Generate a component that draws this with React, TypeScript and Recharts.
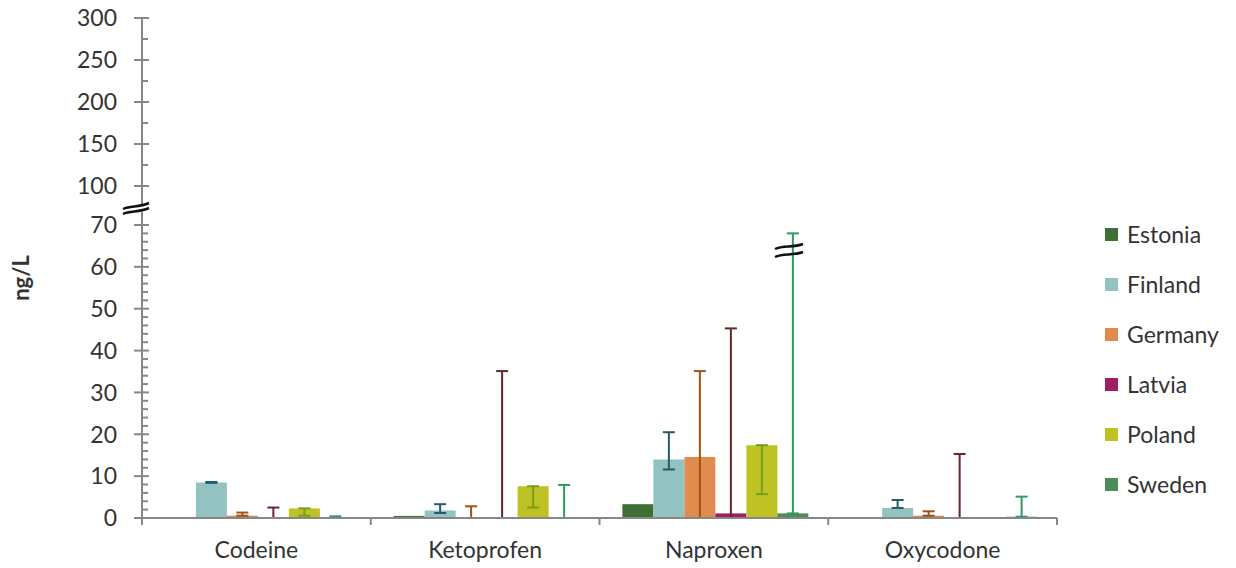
import React from 'react';
import { BarChart, Bar, XAxis, YAxis, ErrorBar, Legend } from 'recharts';

// ---------- data ----------
const CATEGORIES = ['Codeine', 'Ketoprofen', 'Naproxen', 'Oxycodone'];
const COUNTRIES = ['Estonia', 'Finland', 'Germany', 'Latvia', 'Poland', 'Sweden'];

const ESTONIA = [0, 0.5, 3.3, 0];
const FINLAND = [8.5, 1.8, 14.0, 2.4];
const GERMANY = [0.55, 0.05, 14.6, 0.55];
const LATVIA = [0.05, 0.05, 1.1, 0.05];
const POLAND = [2.3, 7.6, 17.4, 0];
const SWEDEN = [0.05, 0.05, 1.1, 0.3];

// error bars as [minus, plus]
const ESTONIA_ERR: (number[] | null)[] = [null, null, null, null];
const FINLAND_ERR: (number[] | null)[] = [[0.1, 0.1], [0.6, 1.5], [2.4, 6.5], [0, 1.9]];
const GERMANY_ERR: (number[] | null)[] = [[0, 0.75], [0.05, 2.75], [14.6, 20.5], [0, 1.05]];
const LATVIA_ERR: (number[] | null)[] = [[0.05, 2.45], [0.05, 35.05], [1.1, 44.2], [0.05, 15.25]];
const POLAND_ERR: (number[] | null)[] = [[1.75, 0], [5.1, 0], [11.7, 0], null];
const SWEDEN_ERR: (number[] | null)[] = [[0.05, 0.35], [0.05, 7.85], [0, 66.9], [0, 4.8]];

const LOWER_TICKS = [0, 2, 4, 6, 8, 10, 12, 14, 16, 18, 20, 22, 24, 26, 28, 30, 32, 34, 36, 38, 40, 42, 44, 46, 48, 50, 52, 54, 56, 58, 60, 62, 64, 66, 68, 70];
const UPPER_TICKS = [100, 125, 150, 175, 200, 225, 250, 275, 300];

const VALUES = [ESTONIA, FINLAND, GERMANY, LATVIA, POLAND, SWEDEN];
const ERRORS = [ESTONIA_ERR, FINLAND_ERR, GERMANY_ERR, LATVIA_ERR, POLAND_ERR, SWEDEN_ERR];

// ---------- styles ----------
const BAR_COLORS = ['#3e7035', '#93c3c0', '#df8c4e', '#9e1f64', '#bec224', '#4e8c57'];
const ERR_COLORS = ['#2f5a28', '#245c6c', '#a5520e', '#6b2428', '#76a01a', '#2e9a64'];
const AXIS_COLOR = '#878787';
const TEXT_COLOR = '#333333';
const FONT = "Lato, 'Liberation Sans', sans-serif";
const FONT_SIZE = 23;

const W = 1236;
const H = 568;
const AXIS_X = 142;
const PLOT_RIGHT = 1057;
const BASE_Y = 518;
const LOWER_TOP = 212;
const UPPER_TOP = 18;
const UPPER_BOTTOM = 205;
const LEGEND_W = 130;
const BAND_HALF = (PLOT_RIGHT - AXIS_X) / CATEGORIES.length / 2;

const data = CATEGORIES.map((name, i) => {
  const row: any = { name };
  COUNTRIES.forEach((c, k) => {
    row[c] = VALUES[k][i];
    row[c + 'Err'] = ERRORS[k][i];
  });
  return row;
});

const makeYTick = (majorStep: number) => (props: any) => {
  const { x, y, payload } = props;
  const v = payload.value;
  const major = v % majorStep === 0;
  return (
    <g>
      <line
        x1={major ? x - 8 : x}
        x2={x + (major ? 7 : 6)}
        y1={y}
        y2={y}
        stroke={AXIS_COLOR}
        strokeWidth={2}
      />
      {major && (
        <text
          x={x - 25}
          y={y}
          dy="0.36em"
          textAnchor="end"
          fontSize={FONT_SIZE}
          fontFamily={FONT}
          fill={TEXT_COLOR}
        >
          {v}
        </text>
      )}
    </g>
  );
};

const XTick = (props: any) => {
  const { x, y, payload } = props;
  const isLast = payload.value === CATEGORIES[CATEGORIES.length - 1];
  return (
    <g>
      <line x1={x - BAND_HALF} x2={x - BAND_HALF} y1={y} y2={y + 7} stroke={AXIS_COLOR} strokeWidth={2} />
      {isLast && (
        <line x1={x + BAND_HALF} x2={x + BAND_HALF} y1={y} y2={y + 7} stroke={AXIS_COLOR} strokeWidth={2} />
      )}
      <text x={x} y={y + 40} textAnchor="middle" fontSize={FONT_SIZE} fontFamily={FONT} fill={TEXT_COLOR}>
        {payload.value}
      </text>
    </g>
  );
};

const LegendContent = () => (
  <div style={{ width: LEGEND_W, fontFamily: FONT, fontSize: FONT_SIZE, color: TEXT_COLOR }}>
    {COUNTRIES.map((c, k) => (
      <div key={c} style={{ height: 50, display: 'flex', alignItems: 'center' }}>
        <span style={{ display: 'inline-block', width: 13, height: 13, background: BAR_COLORS[k], marginRight: 9 }} />
        <span>{c}</span>
      </div>
    ))}
  </div>
);

export default function App() {
  return (
    <div style={{ position: 'absolute', left: 0, top: 0, width: W, height: H, background: '#fff', overflow: 'hidden' }}>
      {/* lower section: 0 - 70 */}
      <div style={{ position: 'absolute', left: 0, top: 0 }}>
        <BarChart
          width={W}
          height={H}
          data={data}
          margin={{ top: LOWER_TOP, right: W - PLOT_RIGHT - LEGEND_W, bottom: 0, left: 0 }}
          barCategoryGap="10%"
          barGap={0}
        >
          <XAxis
            dataKey="name"
            height={H - BASE_Y}
            tickSize={0}
            tickMargin={0}
            interval={0}
            tick={<XTick />}
            tickLine={false}
            axisLine={{ stroke: AXIS_COLOR, strokeWidth: 2 }}
          />
          <YAxis
            width={AXIS_X}
            domain={[0, 70]}
            ticks={LOWER_TICKS}
            interval={0}
            padding={{ top: 13, bottom: 0 }}
            tickSize={0}
            tickMargin={0}
            tickLine={false}
            tick={makeYTick(10)}
            axisLine={{ stroke: AXIS_COLOR, strokeWidth: 2 }}
            allowDataOverflow
          />
          <Legend
            layout="vertical"
            align="right"
            verticalAlign="middle"
            width={LEGEND_W}
            wrapperStyle={{ left: 1105, top: 209, width: LEGEND_W }}
            content={<LegendContent />}
          />
          {COUNTRIES.map((c, k) => (
            <Bar key={c} dataKey={c} fill={BAR_COLORS[k]} isAnimationActive={false}>
              {k > 0 && (
                <ErrorBar
                  dataKey={c + 'Err'}
                  direction="y"
                  width={6}
                  stroke={ERR_COLORS[k]}
                  strokeWidth={2}
                  isAnimationActive={false}
                />
              )}
            </Bar>
          ))}
        </BarChart>
      </div>

      {/* upper section: 100 - 300 */}
      <div style={{ position: 'absolute', left: 0, top: 0, pointerEvents: 'none' }}>
        <BarChart
          width={W}
          height={H}
          data={data}
          margin={{ top: UPPER_TOP, right: W - PLOT_RIGHT, bottom: H - UPPER_BOTTOM, left: 0 }}
        >
          <XAxis dataKey="name" hide />
          <YAxis
            width={AXIS_X}
            domain={[100, 300]}
            ticks={UPPER_TICKS}
            interval={0}
            padding={{ top: 0, bottom: 19 }}
            tickSize={0}
            tickMargin={0}
            tickLine={false}
            tick={makeYTick(50)}
            axisLine={{ stroke: AXIS_COLOR, strokeWidth: 2 }}
            allowDataOverflow
          />
        </BarChart>
      </div>

      {/* decorations: axis label and break marks */}
      <svg width={W} height={H} style={{ position: 'absolute', left: 0, top: 0, pointerEvents: 'none' }}>
        <text
          x={0}
          y={0}
          transform="translate(29 278) rotate(-90)"
          textAnchor="middle"
          fontSize={22}
          fontWeight="bold"
          fontFamily={FONT}
          fill={TEXT_COLOR}
        >
          ng/L
        </text>
        <path d="M123,209 C131,205 138,208 149,203" stroke="#111" strokeWidth={2.5} fill="none" />
        <path d="M123,214 C131,210 138,213 149,208" stroke="#111" strokeWidth={2.5} fill="none" />
        <path d="M775,249 C783,245 793,248 803,244" stroke="#111" strokeWidth={2.5} fill="none" />
        <path d="M775,257 C783,253 793,256 803,252" stroke="#111" strokeWidth={2.5} fill="none" />
      </svg>
    </div>
  );
}
